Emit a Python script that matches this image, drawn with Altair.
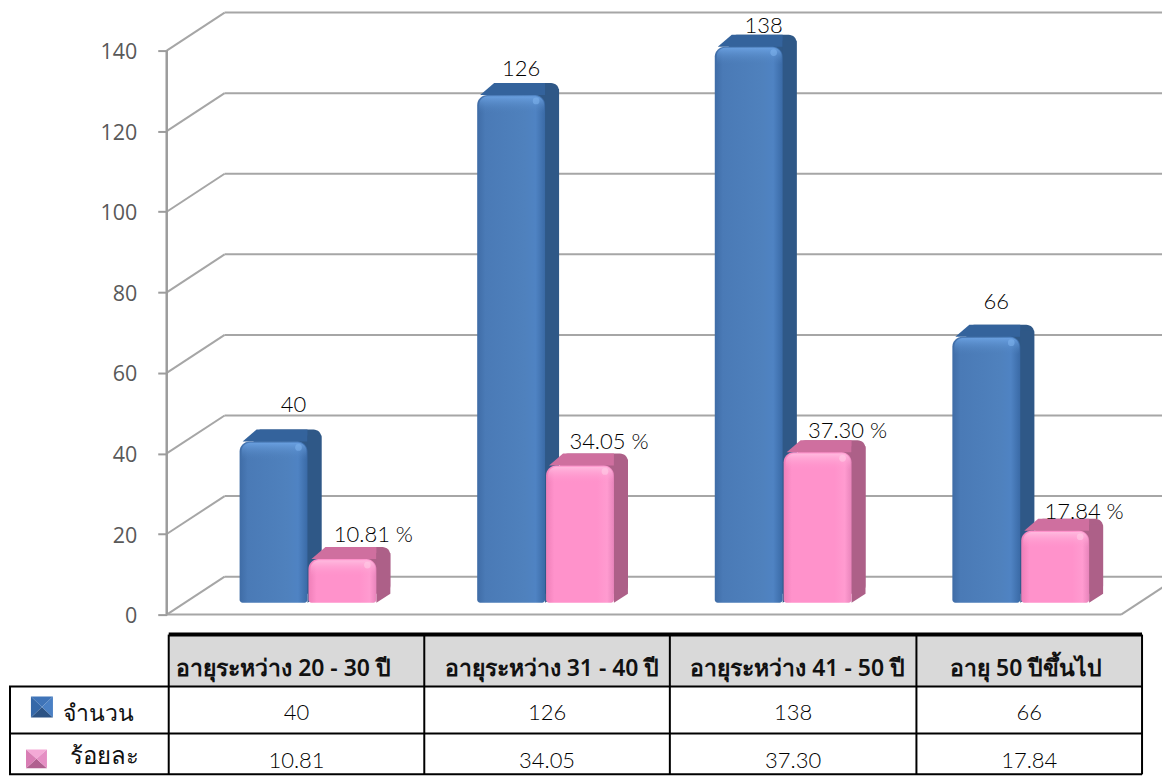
import altair as alt
import pandas as pd

categories = ["อายุระหว่าง 20 - 30 ปี", "อายุระหว่าง 31 - 40 ปี", "อายุระหว่าง 41 - 50 ปี", "อายุ  50 ปีขึ้นไป"]
counts = [40, 126, 138, 66]
percents = [10.81, 34.05, 37.30, 17.84]
count_text = ["40", "126", "138", "66"]
percent_text = ["10.81", "34.05", "37.30", "17.84"]
ticks = [0, 20, 40, 60, 80, 100, 120, 140]
row_names = ["จำนวน", "ร้อยละ"]

# geometry of the 3-D drawing
PX = 4.036            # pixels per unit
X0, SLOT, BW, GAP = 239, 238, 68, 69
DX, DYT, DYB = 14, 12, 9
AX_X, WALL_DX, WALL_DY, FLOOR_END = 166, 58, 38, 1122
LEFT, RIGHT = 8, 1163
TOP_H, TAB_H = 619, 150
BASE = 603 - 8        # bar base inside the top view
AXIS0 = 615 - 8       # axis zero inside the top view
FONT = "Lato"
THAI = "Noto Sans"

xs = alt.Scale(domain=[LEFT, RIGHT], range=[0, RIGHT - LEFT], nice=False, zero=False)
y_bar = alt.Scale(domain=[(BASE - TOP_H) / PX, BASE / PX], range=[TOP_H, 0], nice=False, zero=False)
y_ax = alt.Scale(domain=[(AXIS0 - TOP_H) / PX, AXIS0 / PX], range=[TOP_H, 0], nice=False, zero=False)
X = alt.X("x:Q", scale=xs, axis=None)
Ybar = alt.Y("y:Q", scale=y_bar, axis=None)
Yax = alt.Y("y:Q", scale=y_ax, axis=alt.Axis(
    values=ticks, orient="left", offset=-(AX_X - LEFT), title=None, grid=False, domain=False,
    tickColor="#9c9c9c", tickWidth=2, tickSize=9, labelOffset=2,
    labelFont="Open Sans", labelFontSize=21.5, labelColor="#595959", labelPadding=21))

GRID = "#a6a6a6"
grid_df = pd.DataFrame({"x": [AX_X] * len(ticks), "x2": [AX_X + WALL_DX] * len(ticks),
                        "y": ticks, "y2": [t + WALL_DY / PX for t in ticks]})
back_df = pd.DataFrame({"x": [AX_X + WALL_DX] * len(ticks), "x2": [RIGHT] * len(ticks),
                        "y": [t + WALL_DY / PX for t in ticks]})
floor_df = pd.DataFrame({"x": [AX_X], "x2": [FLOOR_END], "y": [0]})
floor_r = pd.DataFrame({"x": [FLOOR_END], "x2": [FLOOR_END + WALL_DX], "y": [0], "y2": [WALL_DY / PX]})
spine = pd.DataFrame({"x": [AX_X], "y": [ticks[0]], "y2": [ticks[-1]]})

walls = alt.layer(
    alt.Chart(grid_df).mark_rule(color=GRID, strokeWidth=2).encode(x=X, x2="x2:Q", y=Yax, y2="y2:Q"),
    alt.Chart(back_df).mark_rule(color=GRID, strokeWidth=2).encode(x=X, x2="x2:Q", y=Yax),
    alt.Chart(floor_df).mark_rule(color=GRID, strokeWidth=2).encode(x=X, x2="x2:Q", y=Yax),
    alt.Chart(floor_r).mark_rule(color=GRID, strokeWidth=2, clip=True).encode(x=X, x2="x2:Q", y=Yax, y2="y2:Q"),
    alt.Chart(spine).mark_rule(color="#9c9c9c", strokeWidth=2.5).encode(x=X, y=Yax, y2="y2:Q"),
)


def hgrad(stops):
    return alt.Gradient(gradient="linear", x1=0, x2=1, y1=0, y2=0,
                        stops=[alt.GradientStop(offset=o, color=c) for o, c in stops])


def vgrad(stops):
    return alt.Gradient(gradient="linear", x1=0, x2=0, y1=0, y2=1,
                        stops=[alt.GradientStop(offset=o, color=c) for o, c in stops])


def bar3d(v, x0, front, top, side, rim, spot):
    x1 = x0 + BW
    dt, db = DYT / PX, DYB / PX
    shadow = pd.DataFrame({"x": [x0 + DX], "x2": [x1 + DX], "y": [v + dt], "y2": [db]})
    topf = pd.DataFrame({"x": [x0 + 3, x0 + DX + 3, x1], "y": [v, v + dt, v + dt], "y2": [v, v, v]})
    sidef = pd.DataFrame({"x": [x1, x1 + DX], "y": [v + dt * 0.5, v + dt * 0.5], "y2": [0, db]})
    fr = pd.DataFrame({"x": [x0], "x2": [x1], "y": [v], "y2": [0]})
    hi = pd.DataFrame({"x": [x0 + 2], "x2": [x1 - 1], "y": [v - 0.3], "y2": [v - 18 / PX]})
    sp = pd.DataFrame({"x": [x1 - 9], "y": [v - 6 / PX]})
    return [
        alt.Chart(shadow).mark_bar(color=side, cornerRadius=8).encode(x=X, x2="x2:Q", y=Ybar, y2="y2:Q"),
        alt.Chart(topf).mark_area(color=top).encode(x=X, y=Ybar, y2="y2:Q"),
        alt.Chart(sidef).mark_area(color=side).encode(x=X, y=Ybar, y2="y2:Q"),
        alt.Chart(fr).mark_bar(color=hgrad(front), cornerRadiusTopLeft=10, cornerRadiusTopRight=10,
                               cornerRadiusBottomLeft=3, cornerRadiusBottomRight=3).encode(
            x=X, x2="x2:Q", y=Ybar, y2="y2:Q"),
        alt.Chart(hi).mark_bar(color=vgrad(rim), cornerRadiusTopLeft=9, cornerRadiusTopRight=9).encode(
            x=X, x2="x2:Q", y=Ybar, y2="y2:Q"),
        alt.Chart(sp).mark_circle(color=spot, size=45, opacity=0.55).encode(x=X, y=Ybar),
    ]


blue_front = [(0, "#3f6ca6"), (0.12, "#4a7ab6"), (0.7, "#4f81bd"), (0.86, "#4f83c3"), (1, "#3a6aa6")]
pink_front = [(0, "#ef7fb8"), (0.12, "#ff92cb"), (0.75, "#ff92cb"), (0.9, "#ff9bd0"), (1, "#e884bb")]
blue_rim = [(0, "rgba(110,165,230,0.85)"), (1, "rgba(80,130,190,0)")]
pink_rim = [(0, "rgba(255,190,225,0.9)"), (1, "rgba(255,146,203,0)")]

bars = []
for i in range(len(categories)):
    bars += bar3d(counts[i], X0 + SLOT * i, blue_front, "#34639c", "#2f5887", blue_rim, "#7fb4ee")
for i in range(len(categories)):
    bars += bar3d(percents[i], X0 + GAP + SLOT * i, pink_front, "#cf6f9f", "#ad6088", pink_rim, "#ffd0e8")


def label(text, anchor_x, v, dy):
    df = pd.DataFrame({"x": [anchor_x], "y": [v], "t": [text]})
    return alt.Chart(df).mark_text(font=FONT, fontSize=22, fontWeight=300, color="#000000", dy=dy).encode(
        x=X, y=Ybar, text="t:N")


label_dy = [-37, -26, -21, -35]
pct_dy = [-24, -23, -21, -19]
label_x = [293, 521, 764, 997]
pct_x = [373, 609, 848, 1085]
labels = [label(count_text[i], label_x[i], counts[i], label_dy[i]) for i in range(4)]
labels += [label(f"{percent_text[i]} %", pct_x[i], percents[i], pct_dy[i]) for i in range(4)]

top = alt.layer(walls, alt.layer(*bars, *labels)).resolve_scale(y="independent").properties(
    width=RIGHT - LEFT, height=TOP_H)

# table
T0 = 627
col_edges = [168, 424, 670, 917, 1143]
row_edges = [635, 687, 734, 775]
head_x = [283, 552, 798, 1027]
x_t = alt.X("x:Q", scale=xs, axis=None)
y_s = alt.Scale(domain=[T0, T0 + TAB_H], range=[0, TAB_H], nice=False, zero=False)
y_t = alt.Y("y:Q", scale=y_s, axis=None)


def hline(x, x2, y, w):
    d = pd.DataFrame({"x": [x], "x2": [x2], "y": [y]})
    return alt.Chart(d).mark_rule(color="black", strokeWidth=w).encode(x=x_t, x2="x2:Q", y=y_t)


def vline(x, y, y2, w):
    d = pd.DataFrame({"x": [x], "y": [y], "y2": [y2]})
    return alt.Chart(d).mark_rule(color="black", strokeWidth=w).encode(x=x_t, y=y_t, y2="y2:Q")


def cell_text(x, y, text, size, font=THAI, weight="normal", color="#111111"):
    d = pd.DataFrame({"x": [x], "y": [y], "t": [text]})
    return alt.Chart(d).mark_text(font=font, fontSize=size, fontWeight=weight,
                                  color=color).encode(x=x_t, y=y_t, text="t:N")


def tri(xa, ya, ya2, color):
    d = pd.DataFrame({"x": xa, "y": ya, "y2": ya2})
    return alt.Chart(d).mark_area(color=color).encode(x=x_t, y=y_t, y2="y2:Q")


def swatch(x0, x1, y0, y1, c_top, c_left, c_right, c_bottom):
    xc, yc = (x0 + x1) / 2, (y0 + y1) / 2
    return [
        tri([x0, xc, x1], [y0, y0, y0], [y0, yc, y0], c_top),
        tri([x0, xc, x1], [y1, yc, y1], [y1, y1, y1], c_bottom),
        tri([x0, xc], [y0, yc], [y1, yc], c_left),
        tri([xc, x1], [yc, y0], [yc, y1], c_right),
    ]


head_bg = pd.DataFrame({"x": [col_edges[0]], "x2": [col_edges[-1]], "y": [row_edges[0]], "y2": [row_edges[1]]})
tab_layers = [alt.Chart(head_bg).mark_rect(color="#d9d9d9").encode(x=x_t, x2="x2:Q", y=y_t, y2="y2:Q")]
tab_layers.append(hline(col_edges[0], col_edges[-1], row_edges[0], 4))
tab_layers.append(hline(LEFT, col_edges[-1], row_edges[1], 2))
tab_layers.append(hline(LEFT, col_edges[-1], row_edges[2], 2))
tab_layers.append(hline(LEFT, col_edges[-1], row_edges[3], 2))
tab_layers.append(vline(LEFT + 1, row_edges[1], row_edges[3], 2))
for i, c in enumerate(col_edges):
    tab_layers.append(vline(c, row_edges[0], row_edges[3], 2))
for i, name in enumerate(categories):
    mid = (col_edges[i] + col_edges[i + 1]) / 2
    tab_layers.append(cell_text(head_x[i], 669, name, 23, weight=600))
    tab_layers.append(cell_text(mid, 714, count_text[i], 22, font=FONT, weight=300, color="#000000"))
    tab_layers.append(cell_text(mid, 762, percent_text[i], 22, font=FONT, weight=300, color="#000000"))
tab_layers.append(cell_text(98, 715, row_names[0], 23, weight=300))
tab_layers.append(cell_text(104, 758, row_names[1], 24, weight=300))
tab_layers += swatch(30, 52, 697, 718, "#3f74b8", "#3568a8", "#4a80c4", "#2c5384")
tab_layers += swatch(25, 46, 750, 769, "#f4a9d6", "#d97db4", "#e58fc4", "#b0608f")

table = alt.layer(*tab_layers).properties(width=RIGHT - LEFT, height=TAB_H)

chart = alt.vconcat(top, table, spacing=0, bounds="flush").configure_view(stroke=None).properties(
    padding=0, background="white")
chart.save("out.html", embed_options={"renderer": "svg", "actions": False})
